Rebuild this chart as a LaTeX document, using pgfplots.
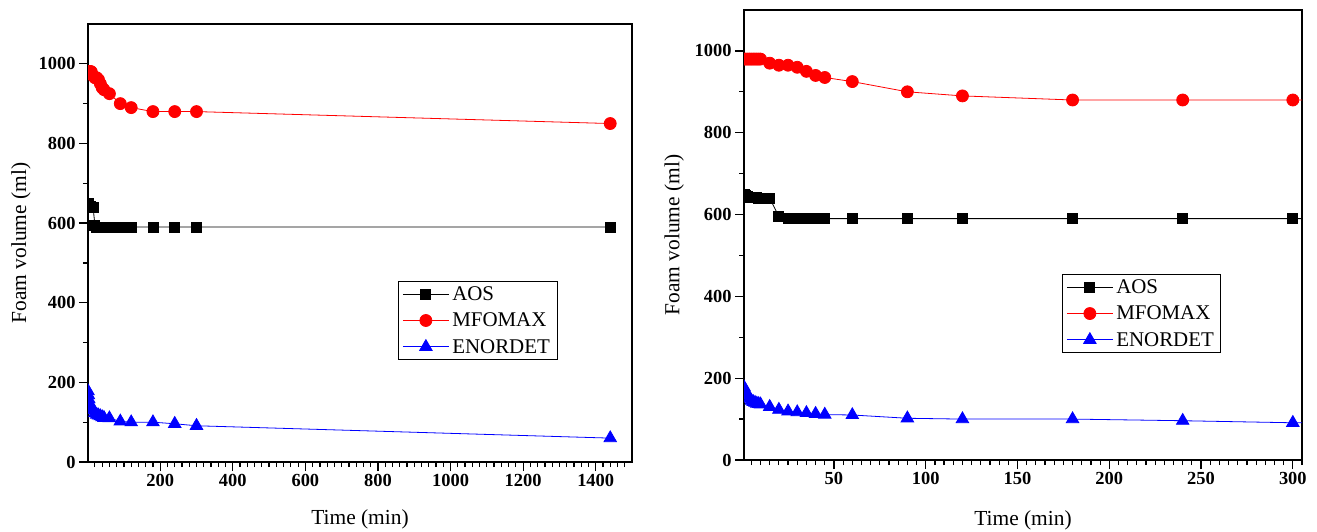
\documentclass[border=0pt]{standalone}
\usepackage{pgfplots}
\usepackage{pgfplotstable}
\pgfplotsset{compat=1.18}
\usepackage{fontspec}
\setmainfont{Liberation Serif}

\pgfplotstableread{
t v
1 650
2 646
3 644
4 643
5 642
6 642
7 641
8 641
9 640
10 640
15 640
20 595
25 590
30 590
35 590
40 590
45 590
60 590
90 590
120 590
180 590
240 590
300 590
1440 590
}\aos
\pgfplotstableread{
t v
1 980
2 980
3 980
4 980
5 980
6 980
7 980
8 980
9 980
10 980
15 970
20 965
25 965
30 960
35 950
40 940
45 935
60 925
90 900
120 890
180 880
240 880
300 880
1440 850
}\mfomax
\pgfplotstableread{
t v
1 178
2 168
3 158
4 150
5 145
6 142
7 140
8 138
9 137
10 136
15 130
20 123
25 119
30 117
35 115
40 113
45 111
60 110
90 102
120 100
180 100
240 96
300 91
1440 60
}\enordet

\pgfplotsset{
  common/.style={
    scale only axis,
    clip marker paths=true,
    axis line style={line width=1.5bp},
    tick style={black, line width=1.2bp},
    major tick length=9bp,
    minor tick length=5bp,
    tick align=outside,
    xtick pos=lower, ytick pos=left,
    ymin=0, ymax=1100,
    ytick={0,200,...,1000},
    minor ytick={100,300,500,700,900},
    tick label style={font=\fontsize{18.5}{20}\selectfont\bfseries},
    /pgf/number format/assume math mode=true,
    /pgf/number format/1000 sep={},
    label style={font=\fontsize{21.5}{24}\selectfont},
    xlabel={Time (min)},
    ylabel={Foam volume (ml)},
    legend cell align=left,
    legend style={draw=black, line width=0.8bp, anchor=north west,
      font=\fontsize{21}{22}\selectfont, inner xsep=4bp, inner ysep=3bp,
      row sep=7bp, nodes={inner xsep=3bp}},
    legend image code/.code={\draw[mark repeat=2,mark phase=2] plot coordinates {(0bp,0bp) (23bp,0bp) (46bp,0bp)};},
  },
  aosstyle/.style={black, line width=0.8bp, mark=square*, mark size=5bp, mark options={solid}},
  mfstyle/.style={red, line width=0.8bp, mark=*, mark size=6bp, mark options={solid}},
  enstyle/.style={blue, line width=0.8bp, mark=triangle*, mark size=7.2bp, mark options={solid}},
}

\begin{document}
\begin{tikzpicture}
\useasboundingbox (0,0) rectangle (1317bp,532bp);
\begin{axis}[common,
  at={(88bp,70bp)}, anchor=south west,
  width=544bp, height=438bp,
  xmin=1, xmax=1500,
  xtick={200,400,...,1400},
  minor xtick={20,40,...,1480},
  ylabel style={at={(axis description cs:-0.123,0.5)}, anchor=center},
  xlabel style={at={(axis description cs:0.5,-0.132)}, anchor=center},
  legend style={at={(axis description cs:0.570,0.413)}},
]
\addplot[aosstyle] table[x=t,y=v] {\aos};
\addlegendentry{AOS}
\addplot[mfstyle] table[x=t,y=v] {\mfomax};
\addlegendentry{MFOMAX}
\addplot[enstyle] table[x=t,y=v] {\enordet};
\addlegendentry{ENORDET}
\end{axis}
\begin{axis}[common,
  at={(744bp,72bp)}, anchor=south west,
  width=558bp, height=450bp,
  xmin=1, xmax=305,
  xtick={50,100,...,300},
  minor xtick={5,10,...,305},
  ylabel style={at={(axis description cs:-0.125,0.5)}, anchor=center},
  xlabel style={at={(axis description cs:0.5,-0.133)}, anchor=center},
  legend style={at={(axis description cs:0.570,0.413)}},
]
\addplot[aosstyle] table[x=t,y=v] {\aos};
\addlegendentry{AOS}
\addplot[mfstyle] table[x=t,y=v] {\mfomax};
\addlegendentry{MFOMAX}
\addplot[enstyle] table[x=t,y=v] {\enordet};
\addlegendentry{ENORDET}
\end{axis}
\end{tikzpicture}
\end{document}
